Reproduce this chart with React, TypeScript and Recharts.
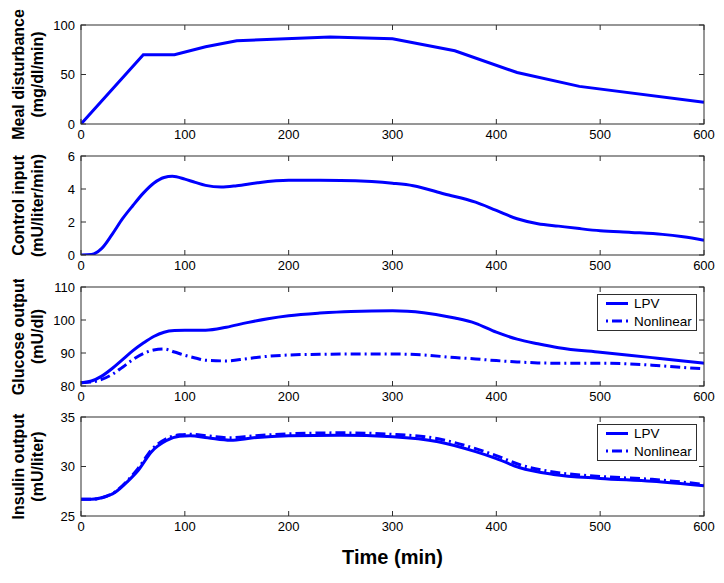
import React from 'react';
import { LineChart, Line, XAxis, YAxis, Legend } from 'recharts';

// ---------- data ----------
const timeTicks = [0, 100, 200, 300, 400, 500, 600];

const mealTime = [0, 60, 90, 120, 150, 240, 300, 360, 420, 480, 600];
const mealValue = [0, 70, 70, 78, 84, 88, 86, 74, 52, 38, 22];
const mealTicks = [0, 50, 100];

const controlTime = [0, 10, 20, 30, 40, 50, 60, 70, 80, 88, 100, 110, 120, 135, 150, 170, 200, 250, 280, 300, 320, 350, 380, 400, 420, 440, 460, 480, 500, 530, 560, 580, 600];
const controlValue = [0, 0.03, 0.4, 1.25, 2.2, 3.0, 3.75, 4.35, 4.7, 4.77, 4.6, 4.4, 4.22, 4.12, 4.2, 4.38, 4.53, 4.52, 4.45, 4.35, 4.2, 3.7, 3.2, 2.7, 2.2, 1.9, 1.75, 1.6, 1.47, 1.37, 1.25, 1.1, 0.9];
const controlTicks = [0, 2, 4, 6];

const glucoseTime = [0, 10, 20, 30, 40, 50, 60, 70, 80, 90, 100, 110, 120, 140, 160, 180, 200, 230, 260, 300, 330, 360, 380, 400, 420, 440, 460, 500, 550, 580, 600];
const glucoseLPV = [81, 81.5, 83, 85.3, 88, 90.7, 93, 95, 96.3, 96.8, 96.9, 96.9, 96.9, 97.8, 99.2, 100.4, 101.3, 102.1, 102.6, 102.8, 102.2, 100.6, 99, 96.3, 94.2, 92.8, 91.6, 90.2, 88.6, 87.6, 86.9];
const glucoseNonlinear = [81, 81.2, 82, 83.5, 85.7, 88, 89.8, 90.9, 91.2, 90.3, 89.3, 88.5, 87.8, 87.6, 88.3, 89.0, 89.4, 89.6, 89.7, 89.7, 89.4, 88.6, 88.2, 87.7, 87.3, 87.0, 86.9, 86.9, 86.3, 85.6, 85.2];
const glucoseTicks = [80, 90, 100, 110];

const insulinTime = [0, 10, 20, 33, 45, 55, 68, 82, 95, 105, 122, 144, 166, 200, 250, 300, 344, 380, 400, 422, 455, 500, 550, 600];
const insulinLPV = [26.7, 26.7, 26.85, 27.4, 28.5, 29.6, 31.5, 32.6, 33.05, 33.1, 32.9, 32.65, 32.9, 33.1, 33.15, 33.0, 32.5, 31.5, 30.8, 29.9, 29.2, 28.8, 28.5, 28.05];
const insulinNonlinear = [26.7, 26.7, 26.85, 27.45, 28.6, 29.8, 31.7, 32.8, 33.2, 33.25, 33.1, 32.9, 33.1, 33.3, 33.4, 33.25, 32.8, 31.8, 31.1, 30.2, 29.45, 29.0, 28.7, 28.2];
const insulinTicks = [25, 30, 35];

const seriesNames = ['LPV', 'Nonlinear'];

// ---------- style ----------
const FONT = '"Liberation Sans", Arial, Helvetica, sans-serif';
const BLUE = '#0000ff';
const FRAME = '#2e2e2e';
const CHART_W = 724;
const Y_W = 81;
const RIGHT_M = 20;
const PW = CHART_W - Y_W - RIGHT_M;
const PH = 99;
const TM = 5;
const TICK_LEN = 5;
const DASHDOT = '10 4 2 4';

const mealData = mealTime.map((t, i) => ({ t, v: mealValue[i] }));
const controlData = controlTime.map((t, i) => ({ t, v: controlValue[i] }));
const glucoseData = glucoseTime.map((t, i) => ({ t, a: glucoseLPV[i], b: glucoseNonlinear[i] }));
const insulinData = insulinTime.map((t, i) => ({ t, a: insulinLPV[i], b: insulinNonlinear[i] }));

const XTick = (props: any) => {
  const { x, y, payload, index } = props;
  const axisY = y - TM;
  const topY = axisY - PH;
  return (
    <g>
      {index === 0 && (
        <rect x={x} y={topY} width={PW} height={PH} fill="none" stroke={FRAME} strokeWidth={1} />
      )}
      <line x1={x} x2={x} y1={axisY} y2={axisY - TICK_LEN} stroke={FRAME} />
      <line x1={x} x2={x} y1={topY} y2={topY + TICK_LEN} stroke={FRAME} />
      <text x={x} y={y} dy="0.75em" textAnchor="middle" fill="#000" fontSize={13} fontFamily={FONT}>
        {payload.value}
      </text>
    </g>
  );
};

const YTick = (props: any) => {
  const { x, y, payload } = props;
  const left = x + TM;
  return (
    <g>
      <line x1={left} x2={left + TICK_LEN} y1={y} y2={y} stroke={FRAME} />
      <line x1={left + PW - TICK_LEN} x2={left + PW} y1={y} y2={y} stroke={FRAME} />
      <text x={x - 1} y={y} dy="0.36em" textAnchor="end" fill="#000" fontSize={13} fontFamily={FONT}>
        {payload.value}
      </text>
    </g>
  );
};

const makeYLabel = (line1: string, line2: string) => (props: any) => {
  const vb = props.viewBox || { x: 0, y: 0, width: Y_W, height: PH };
  const cy = vb.y + vb.height / 2;
  const x1 = vb.x + 18;
  const x2 = vb.x + 37;
  return (
    <g>
      <text x={x1} y={cy} transform={`rotate(-90, ${x1}, ${cy})`} textAnchor="middle" dominantBaseline="central"
        fontFamily={FONT} fontWeight="bold" fontSize={16} fill="#000">{line1}</text>
      <text x={x2} y={cy} transform={`rotate(-90, ${x2}, ${cy})`} textAnchor="middle" dominantBaseline="central"
        fontFamily={FONT} fontWeight="bold" fontSize={16} fill="#000">{line2}</text>
    </g>
  );
};

const TimeLabel = (props: any) => {
  const vb = props.viewBox || { x: Y_W, y: PH, width: PW, height: 60 };
  return (
    <text x={vb.x + vb.width / 2} y={vb.y + 41} textAnchor="middle" dominantBaseline="central"
      fontFamily={FONT} fontWeight="bold" fontSize={20} fill="#000">Time (min)</text>
  );
};

const LegendBox = () => (
  <svg width={100} height={37} style={{ display: 'block' }}>
    <rect x={0.5} y={0.5} width={99} height={36} fill="#fff" stroke={FRAME} />
    <line x1={9} x2={31} y1={9.5} y2={9.5} stroke={BLUE} strokeWidth={3} />
    <text x={37} y={9.5} dominantBaseline="central" fontFamily={FONT} fontSize={13.5} fill="#000">{seriesNames[0]}</text>
    <line x1={9} x2={31} y1={27} y2={27} stroke={BLUE} strokeWidth={3} strokeDasharray="2 4 10 4 2" />
    <text x={37} y={27} dominantBaseline="central" fontFamily={FONT} fontSize={13.5} fill="#000">{seriesNames[1]}</text>
  </svg>
);

type PanelProps = {
  plotTop: number;
  topMargin: number;
  bottomSpace: number;
  data: any[];
  yTicks: number[];
  label1: string;
  label2: string;
  lines: { key: string; dash?: string; type: 'linear' | 'monotone' }[];
  legend?: boolean;
  timeLabel?: boolean;
};

const Panel = ({ plotTop, topMargin, bottomSpace, data, yTicks, label1, label2, lines, legend, timeLabel }: PanelProps) => {
  const height = topMargin + PH + bottomSpace;
  return (
    <div style={{ position: 'absolute', left: 0, top: plotTop - topMargin }}>
      <LineChart width={CHART_W} height={height} data={data} margin={{ top: topMargin, right: RIGHT_M, bottom: 0, left: 0 }}>
        <XAxis
          dataKey="t"
          type="number"
          domain={[0, 600]}
          ticks={timeTicks}
          tickSize={0}
          tickMargin={TM}
          axisLine={false}
          tick={<XTick />}
          height={bottomSpace}
          interval={0}
          allowDataOverflow
          label={timeLabel ? { content: <TimeLabel /> } : undefined}
        />
        <YAxis
          type="number"
          domain={[yTicks[0], yTicks[yTicks.length - 1]]}
          ticks={yTicks}
          tickSize={0}
          tickMargin={TM}
          axisLine={false}
          tick={<YTick />}
          width={Y_W}
          interval={0}
          allowDataOverflow
          label={{ content: makeYLabel(label1, label2) }}
        />
        {lines.map((l) => (
          <Line
            key={l.key}
            dataKey={l.key}
            type={l.type}
            stroke={BLUE}
            strokeWidth={3}
            strokeDasharray={l.dash}
            dot={false}
            activeDot={false}
            isAnimationActive={false}
          />
        ))}
        {legend && (
          <Legend
            layout="vertical"
            align="center"
            verticalAlign="middle"
            content={<LegendBox />}
            wrapperStyle={{ top: topMargin + 7, right: RIGHT_M + 7, left: 'auto', width: 100, height: 37 }}
          />
        )}
      </LineChart>
    </div>
  );
};

export default function App() {
  return (
    <div style={{ position: 'absolute', left: 0, top: 0, width: 724, height: 583, background: '#fff' }}>
      <Panel plotTop={25} topMargin={25} bottomSpace={24} data={mealData} yTicks={mealTicks}
        label1="Meal disturbance" label2="(mg/dl/min)" lines={[{ key: 'v', type: 'linear' }]} />
      <Panel plotTop={156} topMargin={8} bottomSpace={24} data={controlData} yTicks={controlTicks}
        label1="Control input" label2="(mU/liter/min)" lines={[{ key: 'v', type: 'monotone' }]} />
      <Panel plotTop={287} topMargin={8} bottomSpace={24} data={glucoseData} yTicks={glucoseTicks}
        label1="Glucose output" label2="(mU/dl)" legend
        lines={[{ key: 'a', type: 'monotone' }, { key: 'b', type: 'monotone', dash: DASHDOT }]} />
      <Panel plotTop={417} topMargin={8} bottomSpace={583 - 417 - PH} data={insulinData} yTicks={insulinTicks}
        label1="Insulin output" label2="(mU/liter)" legend timeLabel
        lines={[{ key: 'a', type: 'monotone' }, { key: 'b', type: 'monotone', dash: DASHDOT }]} />
    </div>
  );
}
